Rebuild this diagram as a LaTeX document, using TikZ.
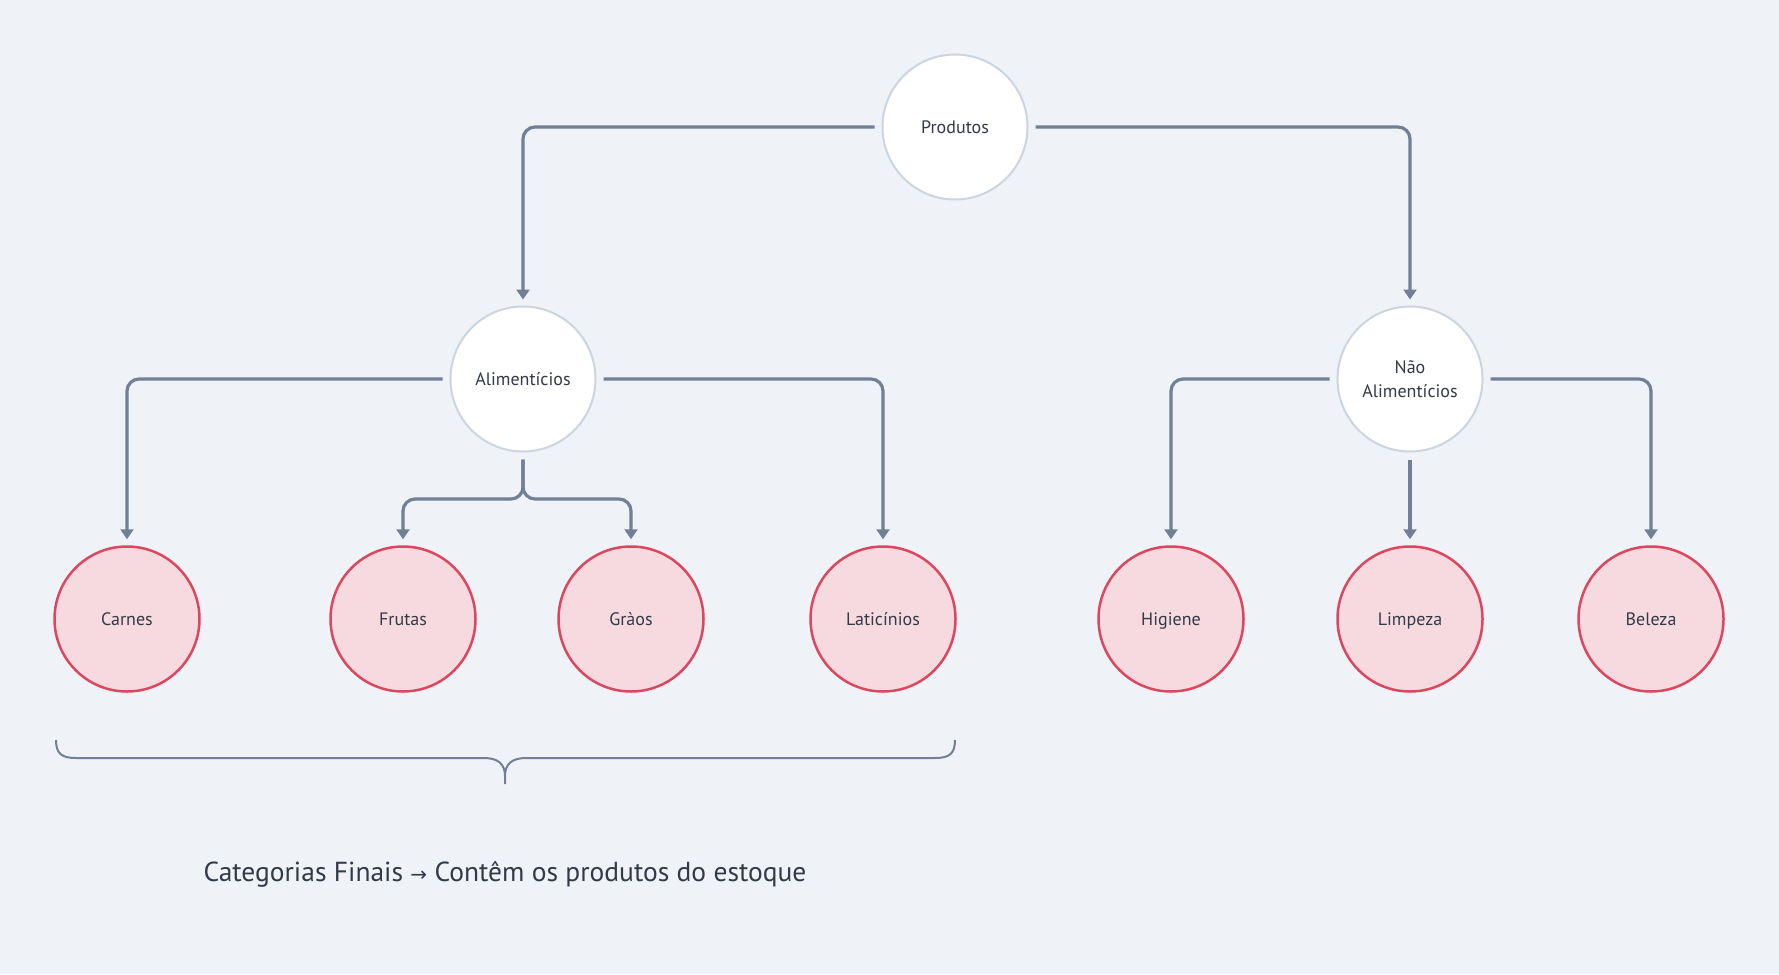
\documentclass[tikz,border=0pt]{standalone}
\usepackage{fontspec}
\setmainfont{PT Sans}
\newfontfamily\symfont{DejaVu Sans}
\usetikzlibrary{arrows.meta}
\definecolor{bg}{HTML}{EFF3F7}
\definecolor{linec}{HTML}{718096}
\definecolor{topborder}{HTML}{CBD5E0}
\definecolor{leaffill}{HTML}{F7DADF}
\definecolor{leafborder}{HTML}{DC4760}
\definecolor{txt}{HTML}{333A47}
\begin{document}
\begin{tikzpicture}[x=1pt,y=-1pt,
  topnode/.style={circle,minimum size=145pt,inner sep=0pt,fill=white,draw=topborder,line width=2pt,text=txt,font=\fontsize{18}{24}\selectfont,align=center},
  leafnode/.style={circle,minimum size=145pt,inner sep=0pt,fill=leaffill,draw=leafborder,line width=2.5pt,text=txt,font=\fontsize{18}{24}\selectfont,text height=16pt,text depth=3.5pt},
  conn/.style={draw=linec,line width=3.2pt,rounded corners=12pt,shorten <=7pt,shorten >=6pt,-{Triangle[width=13pt,length=10pt]}},
  bracestyle/.style={draw=linec,line width=2pt}]
\fill[bg] (0,0) rectangle (1779,974);
\useasboundingbox (0,0) rectangle (1779,974);
\node[topnode] (prod) at (955,127) {Produtos};
\node[topnode] (alim) at (523,379) {Alimentícios};
\node[topnode] (nalim) at (1410,379) {Não\\Alimentícios};
\node[leafnode] (carn) at (127,619) {Carnes};
\node[leafnode] (frut) at (403,619) {Frutas};
\node[leafnode] (grao) at (631,619) {Gràos};
\node[leafnode] (lati) at (883,619) {Laticínios};
\node[leafnode] (higi) at (1171,619) {Higiene};
\node[leafnode] (limp) at (1410,619) {Limpeza};
\node[leafnode] (bele) at (1651,619) {Beleza};
\coordinate (forkA) at (523,499);
\draw[conn] (prod.west) -| (alim.north);
\draw[conn] (prod.east) -| (nalim.north);
\draw[conn] (alim.west) -| (carn.north);
\draw[conn] (alim.east) -| (lati.north);
\draw[conn] (alim.south) -- (forkA) -| (frut.north);
\draw[conn] (alim.south) -- (forkA) -| (grao.north);
\draw[conn] (nalim.west) -| (higi.north);
\draw[conn] (nalim.east) -| (bele.north);
\draw[conn] (nalim.south) -- (limp.north);
\coordinate (brL) at (56,740);
\coordinate (brR) at (955,740);
\coordinate (brT) at (505,784);
\draw[bracestyle] (brL) .. controls (56,754) and (62,758) .. (76,758) -- (484,758) .. controls (498,758) and (505,764) .. (505,776) -- (brT);
\draw[bracestyle] (brR) .. controls (955,754) and (949,758) .. (935,758) -- (526,758) .. controls (512,758) and (505,764) .. (505,776);
\node[text=txt,font=\fontsize{27.5}{32}\selectfont] (cap) at (505,874) {Categorias Finais {\symfont\fontsize{20}{24}\selectfont →} Contêm os produtos do estoque};
\end{tikzpicture}
\end{document}
